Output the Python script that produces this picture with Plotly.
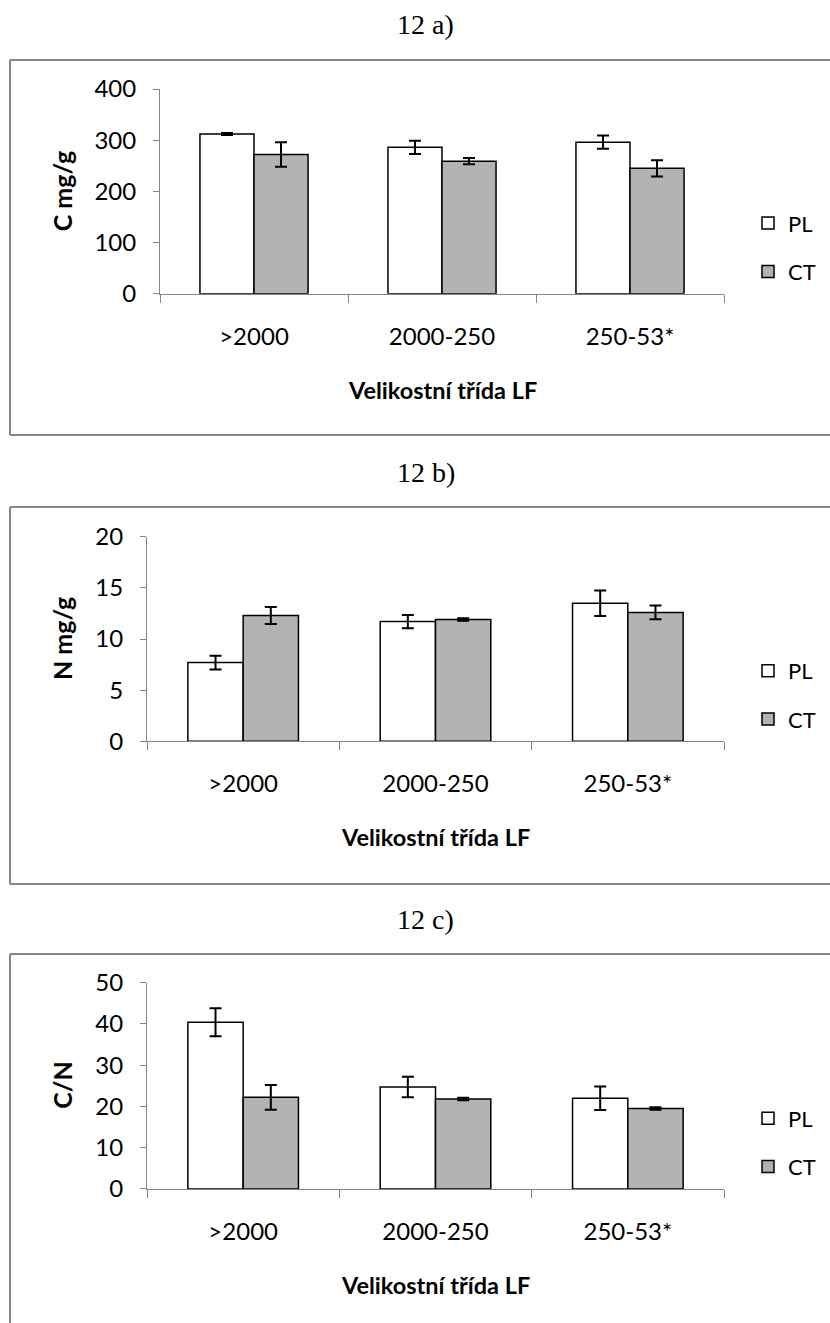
import plotly.graph_objects as go

# ---------------- data ----------------
categories = [">2000", "2000-250", "250-53*"]
series_names = ["PL", "CT"]

c_pl = [312, 286, 296]
c_pl_err = [2, 13, 13]
c_ct = [272, 259, 245]
c_ct_err = [24, 6, 16]

n_pl = [7.7, 11.7, 13.5]
n_pl_err = [0.67, 0.65, 1.24]
n_ct = [12.3, 11.9, 12.6]
n_ct_err = [0.83, 0.12, 0.67]

cn_pl = [40.4, 24.7, 22.0]
cn_pl_err = [3.4, 2.5, 2.85]
cn_ct = [22.2, 21.8, 19.5]
cn_ct_err = [3.0, 0.3, 0.3]

panel_titles = ["12 a)", "12 b)", "12 c)"]
y_titles = ["C mg/g", "N mg/g", "C/N"]
x_title = "Velikostní třída LF"
y_ranges = [[0, 400], [0, 20], [0, 50]]
y_dticks = [100, 5, 10]

# ---------------- layout geometry (pixels) ----------------
W, H = 830, 1323
panels = [
    dict(x=(160, 724), y=(89, 293.7), box=(60, 435)),
    dict(x=(147, 724), y=(536.7, 741.3), box=(507, 884)),
    dict(x=(147, 724), y=(982.7, 1188.9), box=(954, None)),
]

def px(x):
    return x / W

def py(y):
    return 1 - y / H

FONT = "Lato"
TICK_SIZE = 24
LEG_SIZE = 22
AXIS_GRAY = "#868686"
BAR_GRAY = "#b3b3b3"

series_data = [
    (c_pl, c_pl_err, c_ct, c_ct_err),
    (n_pl, n_pl_err, n_ct, n_ct_err),
    (cn_pl, cn_pl_err, cn_ct, cn_ct_err),
]

fig = go.Figure()
shapes = []
annotations = []
layout = {}

for i, (p, (pl, pl_e, ct, ct_e)) in enumerate(zip(panels, series_data)):
    suf = "" if i == 0 else str(i + 1)
    xa = "x" + suf
    ya = "y" + suf
    lg = "legend" + suf
    for name, vals, errs, color in [("PL", pl, pl_e, "white"), ("CT", ct, ct_e, BAR_GRAY)]:
        fig.add_trace(go.Bar(
            x=categories, y=vals, name=name,
            marker=dict(color=color, line=dict(color="black", width=1.5)),
            error_y=dict(type="data", array=errs, visible=True, color="black",
                         thickness=2, width=6),
            xaxis=xa, yaxis=ya, legend=lg, legendgroup=name + suf,
            showlegend=True,
        ))

    layout["xaxis" + suf] = dict(
        domain=[px(p["x"][0]), px(p["x"][1])],
        anchor=ya, type="category", automargin=False,
        showline=True, linecolor=AXIS_GRAY, linewidth=1,
        ticks="outside", tickson="boundaries", ticklen=8, tickcolor=AXIS_GRAY, tickwidth=1,
        showgrid=False, zeroline=False,
        tickfont=dict(family=FONT, size=TICK_SIZE, color="black"),
        ticklabelstandoff=21,
    )
    layout["yaxis" + suf] = dict(
        domain=[py(p["y"][1]), py(p["y"][0])],
        anchor=xa, range=y_ranges[i], dtick=y_dticks[i], tick0=0, automargin=False,
        showline=True, linecolor=AXIS_GRAY, linewidth=1,
        ticks="outside", ticklen=6, tickcolor=AXIS_GRAY, tickwidth=1,
        showgrid=False, zeroline=False,
        tickfont=dict(family=FONT, size=TICK_SIZE, color="black"),
        ticklabelstandoff=12,
    )
    layout[lg] = dict(
        x=px(748), y=py(p["y"][1] - 91.4), xanchor="left", yanchor="top",
        font=dict(family=FONT, size=LEG_SIZE, color="black"),
        bgcolor="rgba(0,0,0,0)", tracegroupgap=16.7,
    )

    # panel border
    top, bottom = p["box"]
    shapes.append(dict(type="line", xref="paper", yref="paper",
                       x0=px(10), x1=1.02, y0=py(top), y1=py(top),
                       line=dict(color=AXIS_GRAY, width=2)))
    shapes.append(dict(type="line", xref="paper", yref="paper",
                       x0=px(10), x1=px(10), y0=py(top),
                       y1=py(bottom) if bottom is not None else -0.02,
                       line=dict(color=AXIS_GRAY, width=2)))
    if bottom is not None:
        shapes.append(dict(type="line", xref="paper", yref="paper",
                           x0=px(10), x1=1.02, y0=py(bottom), y1=py(bottom),
                           line=dict(color=AXIS_GRAY, width=2)))

    # panel title
    annotations.append(dict(text=panel_titles[i], xref="paper", yref="paper",
                            x=px(426), y=py(top - 35), xanchor="center", yanchor="middle",
                            showarrow=False,
                            font=dict(family="Liberation Serif", size=28, color="black")))
    # y title
    annotations.append(dict(text="<b>" + y_titles[i] + "</b>", xref="paper", yref="paper",
                            x=px(62), y=py((p["y"][0] + p["y"][1]) / 2),
                            xanchor="center", yanchor="middle", textangle=-90,
                            showarrow=False,
                            font=dict(family=FONT, size=25, color="black")))
    # x title
    annotations.append(dict(text="<b>" + x_title + "</b>", xref="paper", yref="paper",
                            x=px((p["x"][0] + p["x"][1]) / 2), y=py(p["y"][1] + 96),
                            xanchor="center", yanchor="middle",
                            showarrow=False,
                            font=dict(family=FONT, size=23.5, color="black")))

fig.update_layout(
    width=W, height=H,
    margin=dict(l=0, r=0, t=0, b=0, pad=0, autoexpand=False),
    paper_bgcolor="white", plot_bgcolor="white",
    barmode="group", bargap=0.425, bargroupgap=0,
    shapes=shapes, annotations=annotations,
    **layout,
)

fig.write_html(
    "out.html",
    config={"displayModeBar": False},
    post_script=("document.body.style.margin='0';"
                 "document.body.style.overflow='hidden';"
                 "document.documentElement.style.overflow='hidden';"),
)
